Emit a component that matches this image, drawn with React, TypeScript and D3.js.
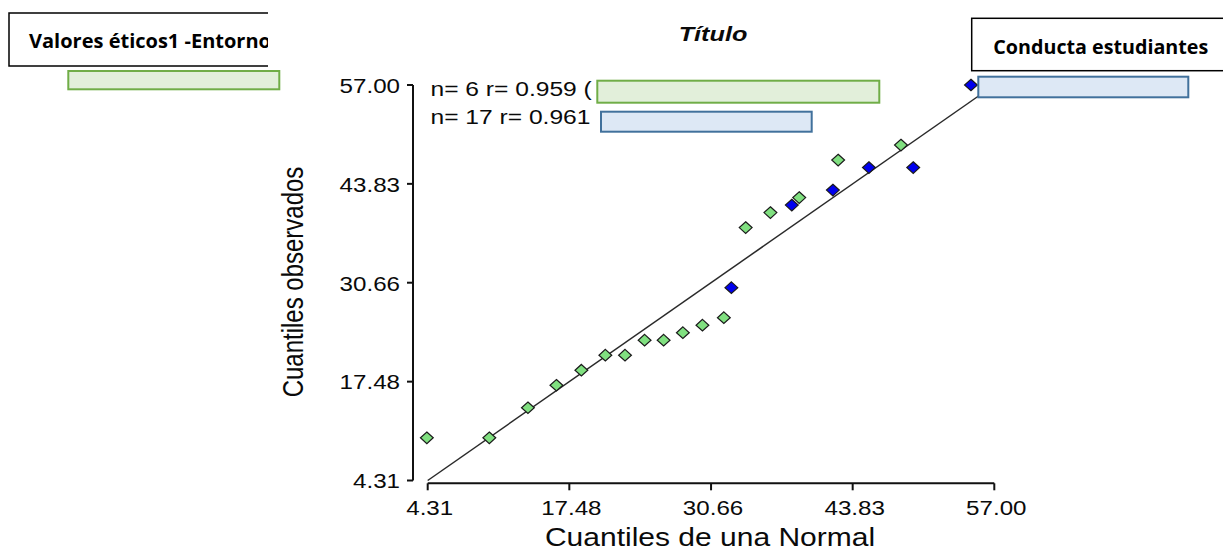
import React from "react";
import * as d3 from "d3";

const W = 1223;
const H = 551;

// Data (quantiles)
const greenX = [4.23, 10.04, 13.63, 16.28, 18.6, 20.83, 22.66, 24.48, 26.25, 28.04, 29.86, 31.85, 33.88, 36.18, 38.86, 42.48, 48.32];
const greenY = [10, 10, 14, 17, 19, 21, 21, 23, 23, 24, 25, 26, 38, 40, 42, 47, 49];
const blueX = [32.55, 38.17, 41.99, 45.34, 49.46, 54.83];
const blueY = [30, 41, 43, 46, 46, 57];
const tickValues = [4.31, 17.48, 30.66, 43.83, 57.0];
const legendLines = ["n= 6 r= 0.959 (", "n= 17 r= 0.961"];
const chartTitle = "Título";
const xTitle = "Cuantiles de una Normal";
const yTitle = "Cuantiles observados";
const leftLabel = "Valores éticos1 -Entorno";
const rightLabel = "Conducta estudiantes";

const x = d3.scaleLinear().domain([4.31, 57]).range([427.7, 994.3]);
const y = d3.scaleLinear().domain([4.31, 57]).range([480.5, 85]);

const diamond = "M0,-5.8L6.4,0L0,5.8L-6.4,0Z";
const FONT = "'Liberation Sans', Arial, sans-serif";

function T(props: { x: number; y: number; anchor?: string; size: number; children: any; weight?: string; style?: string; rot?: boolean; sx?: number }) {
  const sx = props.sx || 1.2;
  const tr = props.rot
    ? `translate(${props.x},${props.y}) scale(${sx},1) rotate(-90)`
    : `translate(${props.x},${props.y}) scale(${sx},1)`;
  return (
    <text
      transform={tr}
      textAnchor={props.anchor || "start"}
      fontFamily={FONT}
      fontSize={props.size}
      fontWeight={props.weight || "normal"}
      fontStyle={props.style || "normal"}
      fill="#0a0a0a"
    >
      {props.children}
    </text>
  );
}

export default function App() {
  const line = d3.line<number>().x((d) => x(d)).y((d) => y(d));
  const x0 = x(4.31);
  const x1 = x(57);
  const yAxisX = 413;
  const xAxisY = 483.3;
  return (
    <svg width={W} height={H} style={{ position: "absolute", left: 0, top: 0, background: "#fff" }}>
      <defs>
        <clipPath id="leftclip">
          <rect x={0} y={0} width={268} height={100} />
        </clipPath>
      </defs>
      <rect width={W} height={H} fill="#fff" />

      {/* title */}
      <T x={713} y={41} anchor="middle" size={21} weight="bold" style="italic">{chartTitle}</T>

      {/* y axis */}
      <line x1={yAxisX} x2={yAxisX} y1={y(57)} y2={y(4.31)} stroke="#111" strokeWidth={2} />
      {tickValues.map((v) => (
        <g key={"yt" + v}>
          <line x1={yAxisX - 6} x2={yAxisX} y1={y(v)} y2={y(v)} stroke="#111" strokeWidth={2} />
          <T x={400} y={y(v) + 7.8} anchor="end" size={21} sx={1.15}>{v.toFixed(2)}</T>
        </g>
      ))}

      {/* x axis */}
      <line x1={x0} x2={x1} y1={xAxisY} y2={xAxisY} stroke="#111" strokeWidth={2} />
      {tickValues.map((v) => (
        <g key={"xt" + v}>
          <line x1={x(v)} x2={x(v)} y1={xAxisY} y2={xAxisY + 7} stroke="#111" strokeWidth={2} />
          <T x={x(v) + 2} y={514.5} anchor="middle" size={21} sx={1.15}>{v.toFixed(2)}</T>
        </g>
      ))}

      {/* axis titles */}
      <T x={710} y={546} anchor="middle" size={25}>{xTitle}</T>
      <T x={303} y={282} anchor="middle" size={24} rot>{yTitle}</T>

      {/* reference line */}
      <path d={line([4.31, 57]) || ""} stroke="#2a2a2a" strokeWidth={1.5} fill="none" />

      {/* points */}
      {greenX.map((v, i) => (
        <path key={"g" + i} d={diamond} transform={`translate(${x(v)},${y(greenY[i])})`} fill="#80e080" stroke="#1a1a1a" strokeWidth={1.2} />
      ))}
      {blueX.map((v, i) => (
        <path key={"b" + i} d={diamond} transform={`translate(${x(v)},${y(blueY[i])})`} fill="#0000ee" stroke="#1a1a1a" strokeWidth={1.2} />
      ))}

      {/* legend */}
      {legendLines.map((s, i) => (
        <T key={"l" + i} x={430.5} y={96 + i * 28} size={20.5}>{s}</T>
      ))}
      <rect x={597.3} y={80.7} width={282} height={22} fill="#e2efda" stroke="#70ad47" strokeWidth={2} />
      <rect x={601} y={111.7} width={210.7} height={20} fill="#dde8f5" stroke="#41719c" strokeWidth={2} />

      {/* left annotation */}
      <g clipPath="url(#leftclip)">
        <rect x={9} y={13} width={300} height={53} fill="#fff" stroke="#000" strokeWidth={1.5} />
        <text x={29} y={47.5} fontFamily="'Open Sans', 'Noto Sans', sans-serif" fontWeight="bold" fontSize={19} textLength={242} lengthAdjust="spacingAndGlyphs" fill="#000">
          {leftLabel}
        </text>
      </g>
      <rect x={68.3} y={71} width={211} height={18.3} fill="#e2efda" stroke="#70ad47" strokeWidth={2} />

      {/* right annotation */}
      <rect x={971.7} y={18.3} width={300} height={52.4} fill="#fff" stroke="#000" strokeWidth={1.5} />
      <text x={993.3} y={53.5} fontFamily="'Open Sans', 'Noto Sans', sans-serif" fontWeight="bold" fontSize={19} textLength={215} lengthAdjust="spacingAndGlyphs" fill="#000">
        {rightLabel}
      </text>
      <rect x={978.3} y={76.7} width={210} height={20.6} fill="#dde8f5" stroke="#41719c" strokeWidth={2} />
    </svg>
  );
}
